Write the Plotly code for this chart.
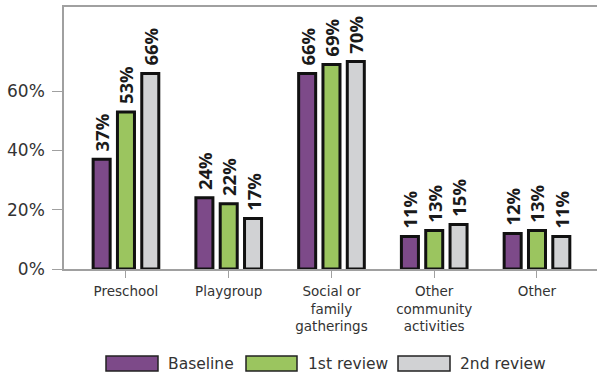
import plotly.graph_objects as go

categories = ["Preschool", "Playgroup", "Social or<br>family<br>gatherings",
              "Other<br>community<br>activities", "Other"]
series_names = ["Baseline", "1st review", "2nd review"]
baseline = [37, 24, 66, 11, 12]
review1 = [53, 22, 69, 13, 13]
review2 = [66, 17, 70, 15, 11]
series_values = [baseline, review1, review2]
colors = ["#7D4A89", "#9BC55F", "#D1D2D4"]
y_ticks = [0, 20, 40, 60]
y_tick_labels = ["0%", "20%", "40%", "60%"]

W, H = 597, 376
ML, MR, MT, MB = 64, 0, 7, 107
PW, PH = W - ML - MR, H - MT - MB

fig = go.Figure()
for name, vals, col in zip(series_names, series_values, colors):
    fig.add_trace(go.Bar(
        x=categories, y=vals, name=name,
        marker=dict(color=col, line=dict(color="#111111", width=3)),
        text=[f"\u00a0{v}%" for v in vals], textposition="outside", textangle=-90,
        constraintext="none", cliponaxis=False,
        textfont=dict(family="Open Sans", size=18.5, color="#1a1a1a", weight="bold"),
        showlegend=False,
    ))

# custom legend (wide swatches like the reference)
legend_items = [(106, 158, 166), (246, 297, 306), (398, 450, 458)]
def px_x(p):
    return (p - ML) / PW
def px_y(p):
    return (H - MB - p) / PH
for (x0, x1, tx), name, col in zip(legend_items, series_names, colors):
    fig.add_shape(type="rect", xref="paper", yref="paper",
                  x0=px_x(x0), x1=px_x(x1), y0=px_y(371), y1=px_y(356),
                  fillcolor=col, line=dict(color="#222222", width=1.5))
    fig.add_annotation(xref="paper", yref="paper", x=px_x(tx), y=px_y(363.5),
                       text=name, showarrow=False, xanchor="left", yanchor="middle",
                       font=dict(family="DejaVu Sans", size=15.5, color="#333333"))

fig.update_layout(
    width=W, height=H,
    margin=dict(l=ML, r=MR, t=MT, b=MB, autoexpand=False),
    paper_bgcolor="white", plot_bgcolor="white",
    barmode="group", bargap=0.29, bargroupgap=0.3,
    xaxis=dict(range=[-0.603, 4.584], showline=True, linecolor="#a0a0a0", linewidth=1.5,
               mirror=True, ticks="outside", ticklen=7, tickcolor="#a0a0a0",
               ticklabelstandoff=2,
               tickfont=dict(family="DejaVu Sans", size=13.5, color="#333333"),
               showgrid=False, zeroline=False, automargin=False),
    yaxis=dict(range=[0, 88.4], tickvals=y_ticks, ticktext=y_tick_labels,
               showline=True, linecolor="#a0a0a0", linewidth=1.5,
               ticks="outside", ticklen=10, tickcolor="#a0a0a0",
               ticklabelstandoff=4,
               tickfont=dict(family="DejaVu Sans", size=17, color="#333333"),
               showgrid=False, zeroline=False, automargin=False),
)

fig.write_html("out.html", config={"displayModeBar": False},
               post_script="document.body.style.margin='0';document.body.style.overflow='hidden';")
